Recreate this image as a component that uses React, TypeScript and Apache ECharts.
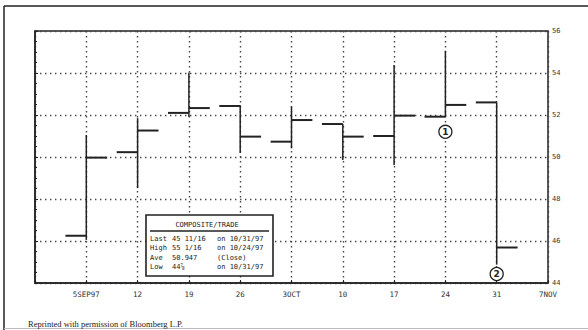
import React, { useEffect, useRef } from "react";
import * as echarts from "echarts";

// Days since 29 Aug 1997 (left edge of the axis); one weekly bar per Friday
const weekDays = [7, 14, 21, 28, 35, 42, 49, 56, 63];
const opens = [46.25, 50.23, 52.1, 52.43, 50.73, 51.57, 51.0, 51.92, 52.6];
const highs = [51.05, 51.85, 54.02, 52.47, 52.4, 51.57, 54.38, 55.06, 52.6];
const lows = [46.05, 48.52, 51.92, 50.19, 50.41, 49.86, 49.62, 51.92, 44.875];
const closes = [49.97, 51.26, 52.33, 50.97, 51.76, 50.97, 51.97, 52.48, 45.69];

const xTickLabels = ["", "5SEP97", "12", "19", "26", "3OCT", "10", "17", "24", "31", "7NOV"];

// Annotation markers: [day, price, label]
const markers: [number, number, string][] = [
  [56, 51.2, "1"],
  [63, 44.43, "2"],
];

const infoTitle = "COMPOSITE/TRADE";
const infoLabels = ["Last", "High", "Ave", "Low"];
const infoValues = ["45 11/16", "55 1/16", "50.947", "44⅞"];
const infoNotes = ["on 10/31/97", "on 10/24/97", "(Close)", "on 10/31/97"];
const caption = "Reprinted with permission of Bloomberg L.P.";

const INK = "#222";
const MONO = "DejaVu Sans Mono";

export default function App() {
  const ref = useRef<HTMLDivElement>(null);
  useEffect(() => {
    if (!ref.current) return;
    const chart = echarts.init(ref.current, null, { renderer: "svg" });
    const data = weekDays.map((d, i) => [d, opens[i], highs[i], lows[i], closes[i]]);
    const dotted = { type: [1.4, 3.6] as number[], color: "#444", width: 1.4 };

    const rowYs = [239, 248.3, 257.7, 266.7];
    const monoStyle = { fontSize: 7, fontFamily: MONO, fill: INK, verticalAlign: "middle" };
    const infoGraphics: any[] = [];
    infoLabels.forEach((lab, i) => {
      infoGraphics.push(
        { type: "text", x: 150, y: rowYs[i], style: { ...monoStyle, text: lab } },
        { type: "text", x: 172, y: rowYs[i], style: { ...monoStyle, text: infoValues[i] } },
        { type: "text", x: 217, y: rowYs[i], style: { ...monoStyle, text: infoNotes[i] } }
      );
    });

    chart.setOption({
      animation: false,
      backgroundColor: "#fff",
      grid: { left: 35, right: 40, top: 31, bottom: 47, show: true, borderColor: INK, borderWidth: 1.5 },
      xAxis: {
        type: "value",
        min: 0,
        max: 70,
        interval: 7,
        axisLine: { show: true, lineStyle: { color: INK, width: 1.5 } },
        axisTick: { show: true, inside: true, length: 3, lineStyle: { color: INK } },
        axisLabel: {
          margin: 7,
          fontSize: 7.5,
          fontFamily: MONO,
          color: "#333",
          showMinLabel: true,
          showMaxLabel: true,
          formatter: (v: number) => xTickLabels[Math.round(v / 7)] ?? "",
        },
        splitLine: { show: true, lineStyle: dotted },
      },
      yAxis: {
        type: "value",
        position: "right",
        min: 44,
        max: 56,
        interval: 2,
        axisLine: { show: true, lineStyle: { color: INK, width: 1.5 } },
        axisTick: { show: true, length: 3, lineStyle: { color: INK } },
        minorTick: { show: true, splitNumber: 4, length: 2, lineStyle: { color: INK } },
        axisLabel: { margin: 4, fontSize: 7, fontFamily: MONO, color: "#333" },
        splitLine: { show: true, lineStyle: dotted },
      },
      series: [
        {
          type: "custom",
          data,
          encode: { x: 0, y: [1, 2, 3, 4] },
          renderItem: (_params: any, api: any) => {
            const x = api.value(0);
            const top = api.coord([x, api.value(2)]);
            const bot = api.coord([x, api.value(3)]);
            const op = api.coord([x, api.value(1)]);
            const cl = api.coord([x, api.value(4)]);
            const w = api.size([2.85, 0])[0];
            return {
              type: "group",
              children: [
                { type: "line", shape: { x1: top[0], y1: top[1], x2: bot[0], y2: bot[1] }, style: { stroke: INK, lineWidth: 1.5 } },
                { type: "line", shape: { x1: op[0] - w, y1: op[1], x2: op[0], y2: op[1] }, style: { stroke: INK, lineWidth: 2 } },
                { type: "line", shape: { x1: cl[0], y1: cl[1], x2: cl[0] + w, y2: cl[1] }, style: { stroke: INK, lineWidth: 2 } },
              ],
            };
          },
          z: 3,
        },
        {
          type: "scatter",
          data: markers,
          symbol: "circle",
          symbolSize: 13,
          itemStyle: { color: "#fff", borderColor: INK, borderWidth: 1.3, opacity: 1 },
          label: {
            show: true,
            position: "inside",
            formatter: (p: any) => p.value[2],
            fontSize: 9,
            fontWeight: "bold",
            fontFamily: "DejaVu Sans",
            color: INK,
          },
          z: 5,
        },
      ],
      graphic: [
        { type: "line", shape: { x1: 4, y1: 6, x2: 588, y2: 6 }, style: { stroke: INK, lineWidth: 1.5 } },
        { type: "line", shape: { x1: 4, y1: 6, x2: 4, y2: 330 }, style: { stroke: INK, lineWidth: 1.5 } },
        { type: "line", shape: { x1: 4, y1: 328.5, x2: 588, y2: 328.5 }, style: { stroke: "#bbb", lineWidth: 1 } },
        { type: "rect", z: 10, shape: { x: 146, y: 215, width: 127, height: 61 }, style: { fill: "#fff", stroke: INK, lineWidth: 1.6 } },
        { type: "text", z: 11, x: 207, y: 225, style: { ...monoStyle, text: infoTitle, align: "center" } },
        { type: "line", z: 11, shape: { x1: 150, y1: 231, x2: 269, y2: 231 }, style: { stroke: INK, lineWidth: 1.3 } },
        ...infoGraphics.map((g) => ({ ...g, z: 11 })),
        { type: "text", x: 28, y: 324, style: { text: caption, fontSize: 8.5, fontFamily: "Liberation Serif", fill: INK, verticalAlign: "middle" } },
      ],
    });
    return () => chart.dispose();
  }, []);
  return <div ref={ref} style={{ position: "fixed", left: 0, top: 0, width: 588, height: 330 }} />;
}
